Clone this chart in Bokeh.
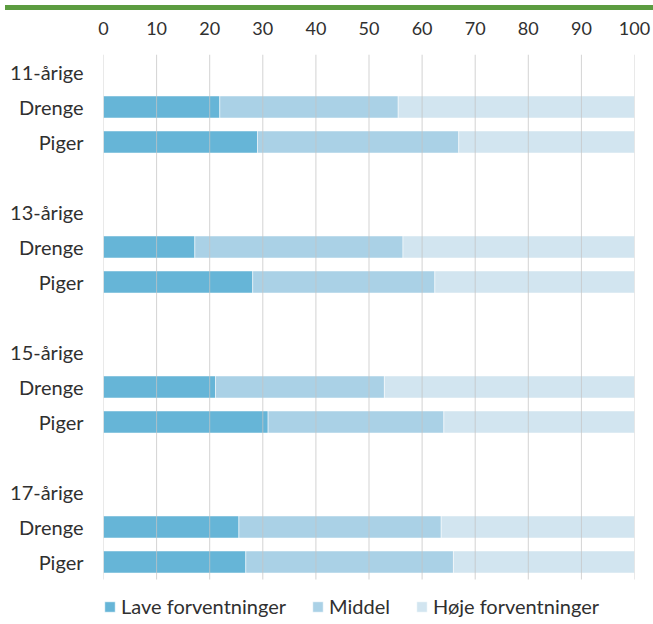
from bokeh.plotting import figure
from bokeh.models import (Range1d, FixedTicker, ColumnDataSource, Legend, LegendItem, Div)
from bokeh.layouts import column
from bokeh.embed import file_html
from bokeh.resources import INLINE

# ---- data ----
groups = ["11-årige", "13-årige", "15-årige", "17-årige"]
genders = ["Drenge", "Piger"]
lave = [21.9, 29.0, 17.2, 28.1, 21.1, 31.0, 25.5, 26.8]
middel = [33.6, 37.9, 39.2, 34.3, 31.8, 33.1, 38.1, 39.1]
hoje = [44.5, 33.1, 43.6, 37.6, 47.1, 35.9, 36.4, 34.1]
series_names = ["Lave forventninger", "Middel", "Høje forventninger"]
colors = ["#66b5d7", "#aad1e6", "#d2e5f0"]
x_ticks = list(range(0, 101, 10))

FONT = "Lato"
TXT = "#303030"

# row layout: header row, then one row per gender, then a blank row
rows_per_group = len(genders) + 2
bar_rows = []
label_map = {}
for gi, g in enumerate(groups):
    base = gi * rows_per_group
    label_map[base] = g
    for k, s in enumerate(genders):
        bar_rows.append(base + 1 + k)
        label_map[base + 1 + k] = s
n_rows = len(groups) * rows_per_group - 1
row_px = 35.0
H = 603
TOP = 39
y_end = -0.5 + (H - TOP) / row_px  # frame runs down to the figure bottom (legend area)

src = ColumnDataSource(dict(y=bar_rows, lave=lave, middel=middel, hoje=hoje))

W = 653
strip = Div(text="", width=W, height=5,
            styles={"background-color": "#5c9c40"})

p = figure(width=W, height=H, output_backend="svg", toolbar_location=None,
           x_range=Range1d(0, 100), y_range=Range1d(y_end, -0.5),
           x_axis_location="above",
           min_border_left=103, min_border_right=19,
           min_border_top=TOP, min_border_bottom=0,
           outline_line_color=None)

rs = p.hbar_stack(["lave", "middel", "hoje"], y="y", height=0.63, source=src,
                  fill_color=colors, line_color="white", line_alpha=0.5,
                  line_width=1)

# vertical grid lines, limited to the rows area
p.segment(x0=x_ticks, x1=x_ticks, y0=[-0.5] * len(x_ticks),
          y1=[n_rows - 0.5] * len(x_ticks),
          line_color="#c4c4c4", line_alpha=0.75, line_width=1)

p.xaxis.ticker = FixedTicker(ticks=x_ticks)
p.xaxis.axis_line_color = None
p.xaxis.major_tick_line_color = None
p.xaxis.minor_tick_line_color = None
p.xaxis.major_label_standoff = 14
p.xaxis.major_label_text_font = FONT
p.xaxis.major_label_text_font_size = "18px"
p.xaxis.major_label_text_color = TXT

p.yaxis.ticker = FixedTicker(ticks=sorted(label_map.keys()))
p.yaxis.major_label_overrides = label_map
p.yaxis.axis_line_color = None
p.yaxis.major_tick_line_color = None
p.yaxis.minor_tick_line_color = None
p.yaxis.major_label_standoff = 14
p.yaxis.major_label_text_font = FONT
p.yaxis.major_label_text_font_size = "20px"
p.yaxis.major_label_text_color = TXT

p.grid.visible = False

legend = Legend(items=[LegendItem(label=n, renderers=[r]) for n, r in zip(series_names, rs)],
                orientation="horizontal", location=(0, 0),
                glyph_width=13, glyph_height=13, label_standoff=5, spacing=25,
                padding=0, margin=0, border_line_color=None,
                background_fill_alpha=0,
                label_text_font=FONT, label_text_font_size="20px",
                label_text_color=TXT, label_height=20)
p.add_layout(legend, "center")

layout = column(strip, p, spacing=0)
open("out.html", "w").write(file_html(layout, INLINE))
